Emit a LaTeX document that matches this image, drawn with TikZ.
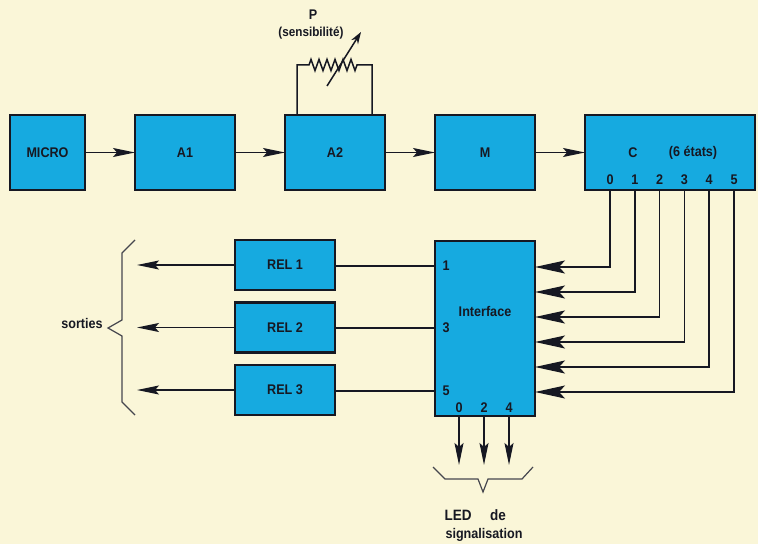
\documentclass[tikz,border=0pt]{standalone}
\usepackage{fontspec}
\setmainfont{Liberation Sans}[FakeStretch=0.9]
\usetikzlibrary{arrows.meta, positioning, calc, decorations.pathmorphing}
\definecolor{paper}{RGB}{250,246,216}
\definecolor{blockblue}{RGB}{22,170,224}
\definecolor{inkblack}{RGB}{22,24,34}

\begin{document}
\begin{tikzpicture}[
    x=0.5pt, y=-0.5pt,
    node distance=25pt,
    every node/.style={font=\fontsize{7}{8}\selectfont\bfseries, text=inkblack, inner sep=0pt},
    blockbox/.style={rectangle, draw=inkblack, fill=blockblue, line width=1.2pt,
                     minimum width=50pt, minimum height=37.5pt, outer sep=0pt},
    relbox/.style={rectangle, draw=inkblack, fill=blockblue, line width=1.2pt,
                   minimum width=50pt, minimum height=25pt, outer sep=0pt},
    wire/.style={line width=0.75pt, draw=inkblack},
    flow/.style={wire, -{Stealth[length=11pt, width=4.5pt, inset=2pt]}},
    bigflow/.style={wire, -{Stealth[length=15pt, width=6.5pt, inset=3pt]}},
    bracket/.style={line width=0.6pt, draw=inkblack!80}
]

% Background
\useasboundingbox (0,0) rectangle (758,544);
\fill[paper] (0,0) rectangle (758,544);

% Top chain
\node[blockbox, minimum width=37.5pt] (micro) at (47.5,152.5) {MICRO};
\node[blockbox, right=of micro] (aone) {A1};
\node[blockbox, right=of aone] (atwo) {A2};
\node[blockbox, right=of atwo] (mod) {M};
\node[blockbox, right=of mod, minimum width=85pt] (cnt) {};
\node at (633,153) {C};
\node at (693,153) {(6 états)};
\foreach \k in {0,...,5}
  \node (cnt\k) at (610+24.8*\k,180) {\k};

% Potentiometer P
\coordinate (pl) at (297,65);
\coordinate (pr) at (372,65);
\coordinate (rl) at (309,65);
\coordinate (rr) at (359,65);
\draw[wire] (pl |- atwo.north) -- (pl) -- (rl)
  decorate[decoration={zigzag, segment length=4pt, amplitude=2.8pt}] {-- (rr)}
  -- (pr) -- (pr |- atwo.north);
\coordinate (pot0) at (327,86);
\coordinate (pot1) at (361,32);
\draw[wire, -{Stealth[length=6pt, width=4pt]}] (pot0) -- (pot1);
\node (plabel) at (313,15) {P};
\node[font=\fontsize{6.5}{7}\selectfont\bfseries] (sens) at (311,33) {(sensibilité)};

% Top arrows
\draw[flow] (micro) -- (aone);
\draw[flow] (aone) -- (atwo);
\draw[flow] (atwo) -- (mod);
\draw[flow] (mod.east) -- (mod.east -| cnt.west);

% Interface
\node[blockbox, below=25.5pt of mod, minimum height=87.5pt] (iface) {};
\node at ($(iface.center)+(0,-17)$) {Interface};
\node (ip1) at ($(iface.north west)+(11,25)$) {1};
\node (ip3) at ($(iface.north west)+(11,87)$) {3};
\node (ip5) at ($(iface.north west)+(11,150)$) {5};
\foreach \k/\x in {0/24,2/49,4/74}
  \node (iq\k) at ($(iface.south west)+(\x,-8)$) {\k};

% Counter outputs into interface
\foreach \k in {0,...,5}{
  \coordinate (in\k) at ($(iface.north east)+(0,26+25*\k)$);
  \draw[bigflow] (cnt\k |- cnt.south) |- (in\k);
}

% Relays
\node[relbox] (rel1) at (285,265) {REL 1};
\node[relbox] (rel2) at (285,327.5) {REL 2};
\node[relbox] (rel3) at (285,390) {REL 3};
\foreach \r/\p in {1/1,2/3,3/5}{
  \draw[wire] (iface.west |- ip\p) -- (rel\r.east |- ip\p);
  \coordinate (out\r) at (137,0 |- rel\r.west);
  \draw[flow] (rel\r.west) -- (out\r |- rel\r.west);
}

% LED outputs
\foreach \k in {0,2,4}{
  \coordinate (led\k) at (iq\k |- 0,465);
  \draw[flow] (iq\k |- iface.south) -- (led\k);
}

% Brackets
\draw[bracket] (135,240) -- (122,253) -- (122,320) -- (108,328) -- (122,336)
  -- (122,402) -- (135,415);
\node (sorties) at (82,323) {sorties};
\draw[bracket] (433,467) -- (445,479) -- (478,479) -- (483,492) -- (488,479)
  -- (522,479) -- (533,467);
\node[font=\fontsize{7.5}{8}\selectfont\bfseries] (led) at (458,515) {LED};
\node[font=\fontsize{7.5}{8}\selectfont\bfseries] (de) at (498,515) {de};
\node[font=\fontsize{7}{8}\selectfont\bfseries] (signal) at (484,535) {signalisation};

\end{tikzpicture}
\end{document}
